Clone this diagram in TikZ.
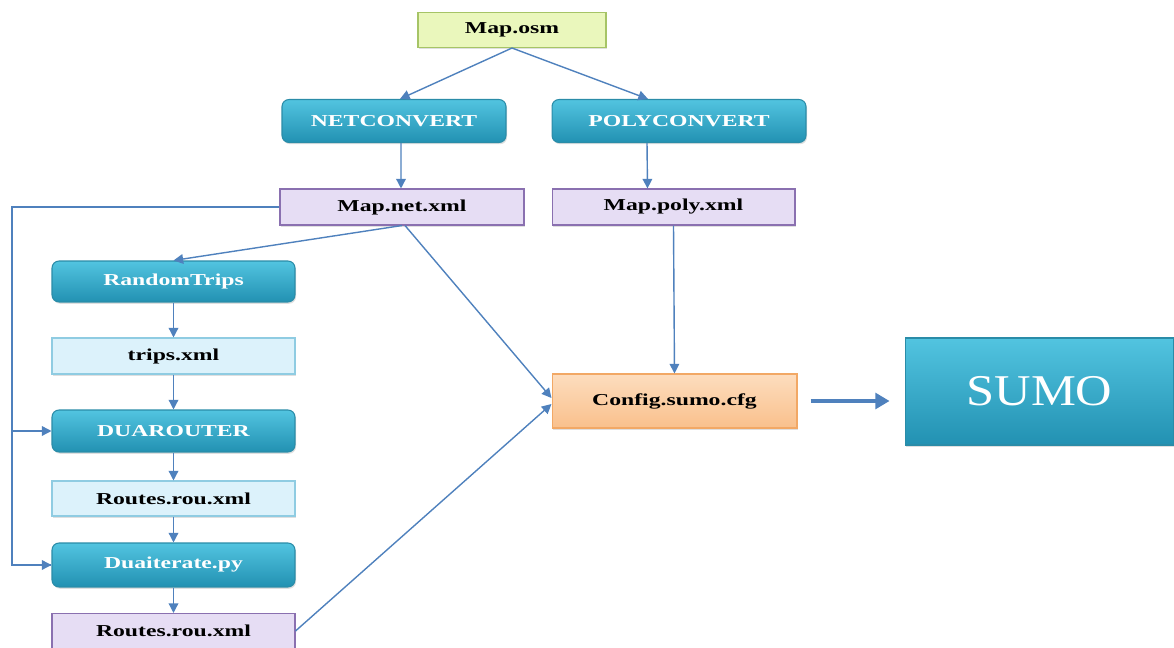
\documentclass[tikz,border=0pt]{standalone}
\usepackage{fontspec}
\setmainfont[FakeStretch=1.42]{Liberation Serif}
\newfontfamily\sumofont[FakeStretch=1.15]{Liberation Serif}
\usepackage{tikz}
\usetikzlibrary{arrows.meta,shadows}
\definecolor{lineblue}{HTML}{4F81BD}
\definecolor{tealtop}{HTML}{52C4E0}
\definecolor{tealbot}{HTML}{2291B2}
\definecolor{tealedge}{HTML}{2A8CA8}
\definecolor{osmfill}{HTML}{EAF7BC}
\definecolor{osmedge}{HTML}{A6C466}
\definecolor{lavfill}{HTML}{E6DDF4}
\definecolor{lavedge}{HTML}{8A70B0}
\definecolor{skyfill}{HTML}{DCF2FB}
\definecolor{skyedge}{HTML}{8FCCE2}
\definecolor{cfgtop}{HTML}{FDDDBE}
\definecolor{cfgbot}{HTML}{F9C08C}
\definecolor{cfgedge}{HTML}{F2A865}

\begin{document}
\begin{tikzpicture}[x=0.02cm,y=-0.02cm,
		box/.style={draw, line width=0.6pt, inner sep=0pt, font=\bfseries\fontsize{9.5}{11}\selectfont,
			drop shadow={opacity=0.25, shadow xshift=0.6pt, shadow yshift=-1pt}},
		tool/.style={box, rounded corners=4pt, draw=tealedge, top color=tealtop, bottom color=tealbot, text=white},
		osmfile/.style={box, draw=osmedge, fill=osmfill},
		netfile/.style={box, draw=lavedge, fill=lavfill},
		tripfile/.style={box, draw=skyedge, fill=skyfill},
		cfgfile/.style={box, draw=cfgedge, top color=cfgtop, bottom color=cfgbot},
		flow/.style={draw=lineblue, line width=0.8pt, -{Triangle[length=5.5pt,width=5.5pt]}}]
				\useasboundingbox (0,0) rectangle (1174,648);
				\node[osmfile, minimum width=3.76cm, minimum height=0.7cm] (osm) at (512,30) {Map.osm};
				\node[tool, minimum width=4.48cm, minimum height=0.86cm] (netconv) at (394,121) {NETCONVERT};
				\node[tool, minimum width=5.08cm, minimum height=0.86cm] (polyconv) at (679,121) {POLYCONVERT};
				\node[netfile, minimum width=4.88cm, minimum height=0.72cm] (netxml) at (402,207) {Map.net.xml};
				\node[netfile, minimum width=4.86cm, minimum height=0.72cm] (polyxml) at (673.5,207) {Map.poly.xml};
				\node[tool, minimum width=4.86cm, minimum height=0.82cm] (rtrips) at (173.5,281.5) {RandomTrips};
				\node[tripfile, minimum width=4.86cm, minimum height=0.72cm] (trips) at (173.5,356) {trips.xml};
				\node[tool, minimum width=4.86cm, minimum height=0.84cm] (duar) at (173.5,431) {DUAROUTER};
				\node[tripfile, minimum width=4.86cm, minimum height=0.7cm] (rou) at (173.5,498.5) {Routes.rou.xml};
				\node[tool, minimum width=4.86cm, minimum height=0.88cm] (duait) at (173.5,565) {Duaiterate.py};
				\node[netfile, minimum width=4.86cm, minimum height=0.7cm] (rouout) at (173.5,631) {Routes.rou.xml};
				\node[cfgfile, minimum width=4.9cm, minimum height=1.08cm] (cfg) at (674.5,401) {Config.sumo.cfg};
				\node[box, draw=tealedge, top color=tealtop, bottom color=tealbot, text=white, minimum width=5.38cm, minimum height=2.14cm,
					font=\sumofont\fontsize{25}{28}\selectfont] (sumo) at (1039.5,391.5) {SUMO};
				\coordinate (bus) at (12,207);
				\draw[flow] (osm.south) -- ([xshift=0.12cm]netconv.north);
				\draw[flow] (osm.south) -- ([xshift=-0.62cm]polyconv.north);
				\draw[flow] ([xshift=0.14cm]netconv.south) -- ([xshift=-0.02cm]netxml.north);
				\draw[flow] ([xshift=-0.64cm]polyconv.south) -- ([xshift=-0.52cm]polyxml.north);
				\draw[flow] (netxml.south) -- (rtrips.north);
				\draw[flow] ([xshift=0.06cm]netxml.south) -- ([yshift=0.06cm]cfg.west);
				\draw[flow] (polyxml.south) -- (cfg.north);
				\draw[flow] (rouout.east) -- ([yshift=-0.06cm]cfg.west);
				\draw[lineblue, line width=0.8pt] (netxml.west) -- (bus) |- (duait.west);
				\draw[flow] (bus |- duar.west) -- (duar.west);
				\draw[flow] (bus |- duait.west) -- (duait.west);
				\draw[flow] (rtrips) -- (trips);
				\draw[flow] (trips) -- (duar);
				\draw[flow] (duar) -- (rou);
				\draw[flow] (rou) -- (duait);
				\draw[flow] (duait) -- (rouout);
				\draw[draw=lineblue, line width=1.8pt, -{Triangle[length=8pt,width=9pt]}, shorten <=0.26cm, shorten >=0.3cm] (cfg.east) -- (cfg.east -| sumo.west);
			\end{tikzpicture}
\end{document}
